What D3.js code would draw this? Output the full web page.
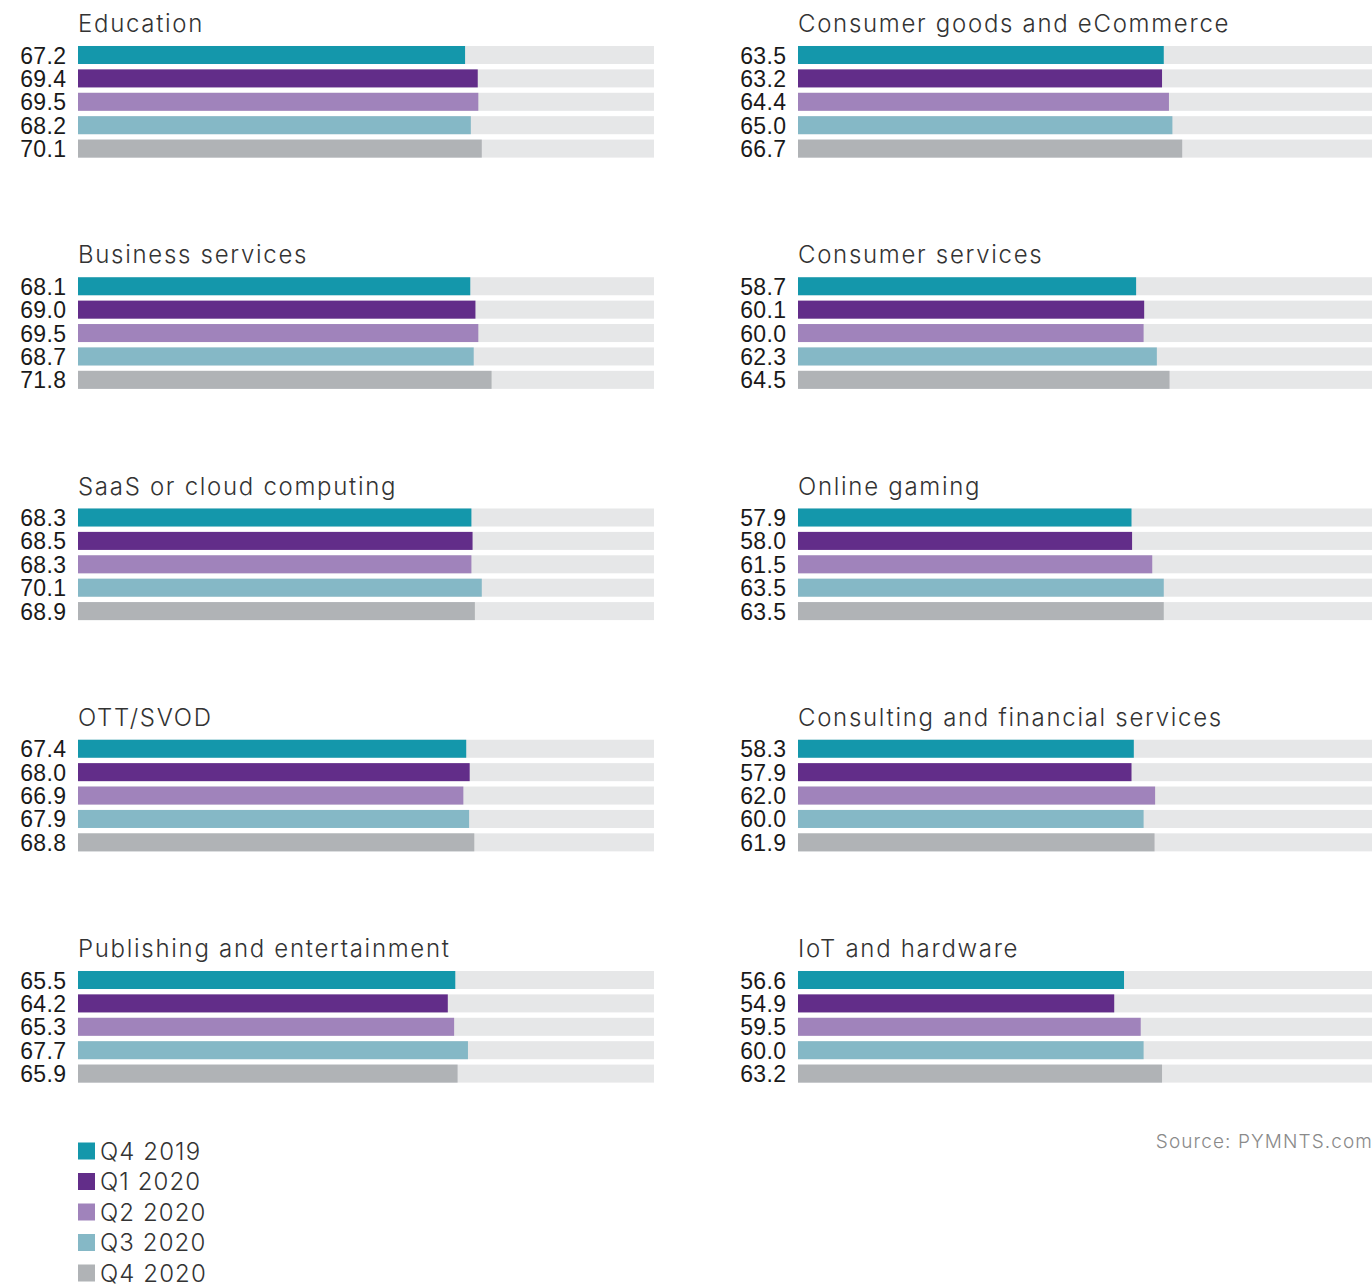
<!DOCTYPE html>
<html>
<head>
<meta charset="utf-8">
<script src="https://cdn.jsdelivr.net/npm/d3@7"></script>
<style>
  html, body { margin: 0; padding: 0; background: #fff; }
  svg { display: block; }
  .title { font-family: Inter, "Open Sans", sans-serif; font-weight: 300; font-size: 24px; letter-spacing: 1.7px; fill: #333; }
  .val { font-family: "Liberation Sans", Arial, sans-serif; font-size: 23px; letter-spacing: 0.4px; fill: #1a1a1a; }
  .legend { font-family: Inter, "Open Sans", sans-serif; font-weight: 300; font-size: 24px; letter-spacing: 1.1px; fill: #333; }
  .source { font-family: Inter, "Open Sans", sans-serif; font-weight: 300; font-size: 19px; letter-spacing: 1.1px; fill: #8a8a8a; }
</style>
</head>
<body>
<script>
// Index scores by industry, five quarters each
const categories = [
  "Education", "Consumer goods and eCommerce",
  "Business services", "Consumer services",
  "SaaS or cloud computing", "Online gaming",
  "OTT/SVOD", "Consulting and financial services",
  "Publishing and entertainment", "IoT and hardware"
];
const quarters = ["Q4 2019", "Q1 2020", "Q2 2020", "Q3 2020", "Q4 2020"];
const q4_2019 = [67.2, 63.5, 68.1, 58.7, 68.3, 57.9, 67.4, 58.3, 65.5, 56.6];
const q1_2020 = [69.4, 63.2, 69.0, 60.1, 68.5, 58.0, 68.0, 57.9, 64.2, 54.9];
const q2_2020 = [69.5, 64.4, 69.5, 60.0, 68.3, 61.5, 66.9, 62.0, 65.3, 59.5];
const q3_2020 = [68.2, 65.0, 68.7, 62.3, 70.1, 63.5, 67.9, 60.0, 67.7, 60.0];
const q4_2020 = [70.1, 66.7, 71.8, 64.5, 68.9, 63.5, 68.8, 61.9, 65.9, 63.2];
const seriesValues = [q4_2019, q1_2020, q2_2020, q3_2020, q4_2020];
const colors = ["#1497ab", "#622d89", "#a083bb", "#85b8c6", "#b0b3b6"];
const trackColor = "#e6e7e8";

const W = 1372, H = 1287;
const svg = d3.select("body").append("svg").attr("width", W).attr("height", H);

// Layout: two columns of five panels
const colX = d3.scaleOrdinal().domain([0, 1]).range([78, 798]);
const panelY = d3.scaleLinear().domain([0, 1]).range([0, 231.25]);
const x = d3.scaleLinear().domain([0, 100]).range([0, 576]);
const y = d3.scaleBand().domain(quarters).range([43.3, 43.3 + 117])
  .paddingInner(0.23).paddingOuter(0.115);

categories.forEach((cat, i) => {
  const col = i % 2, row = Math.floor(i / 2);
  const g = svg.append("g")
    .attr("transform", `translate(${colX(col)},${panelY(row)})`);

  g.append("text").attr("class", "title")
    .attr("x", 0).attr("y", 32).text(cat);

  const rows = quarters.map((q, k) => ({ q, v: seriesValues[k][i], c: colors[k] }));

  // full-scale background tracks
  g.selectAll("rect.track").data(rows).join("rect")
    .attr("class", "track")
    .attr("x", x(0)).attr("y", d => y(d.q))
    .attr("width", x(100)).attr("height", y.bandwidth())
    .attr("fill", trackColor);

  g.selectAll("rect.bar").data(rows).join("rect")
    .attr("class", "bar")
    .attr("x", x(0)).attr("y", d => y(d.q))
    .attr("width", d => x(d.v)).attr("height", y.bandwidth())
    .attr("fill", d => d.c);

  g.selectAll("text.val").data(rows).join("text")
    .attr("class", "val")
    .attr("x", -11.5).attr("y", d => y(d.q) + y.bandwidth() / 2)
    .attr("dy", "0.37em")
    .attr("text-anchor", "end")
    .text(d => d.v.toFixed(1));
});

// Legend
const ly = d3.scaleLinear().domain([0, 1]).range([1142.5, 1173]);
const legend = svg.append("g").attr("transform", "translate(78,0)");
quarters.forEach((q, k) => {
  legend.append("rect").attr("x", 0).attr("y", ly(k))
    .attr("width", 17).attr("height", 17).attr("fill", colors[k]);
  legend.append("text").attr("class", "legend")
    .attr("x", 22).attr("y", ly(k) + 17).text(q);
});

svg.append("text").attr("class", "source")
  .attr("x", 1373).attr("y", 1148).attr("text-anchor", "end")
  .text("Source: PYMNTS.com");
</script>
</body>
</html>
